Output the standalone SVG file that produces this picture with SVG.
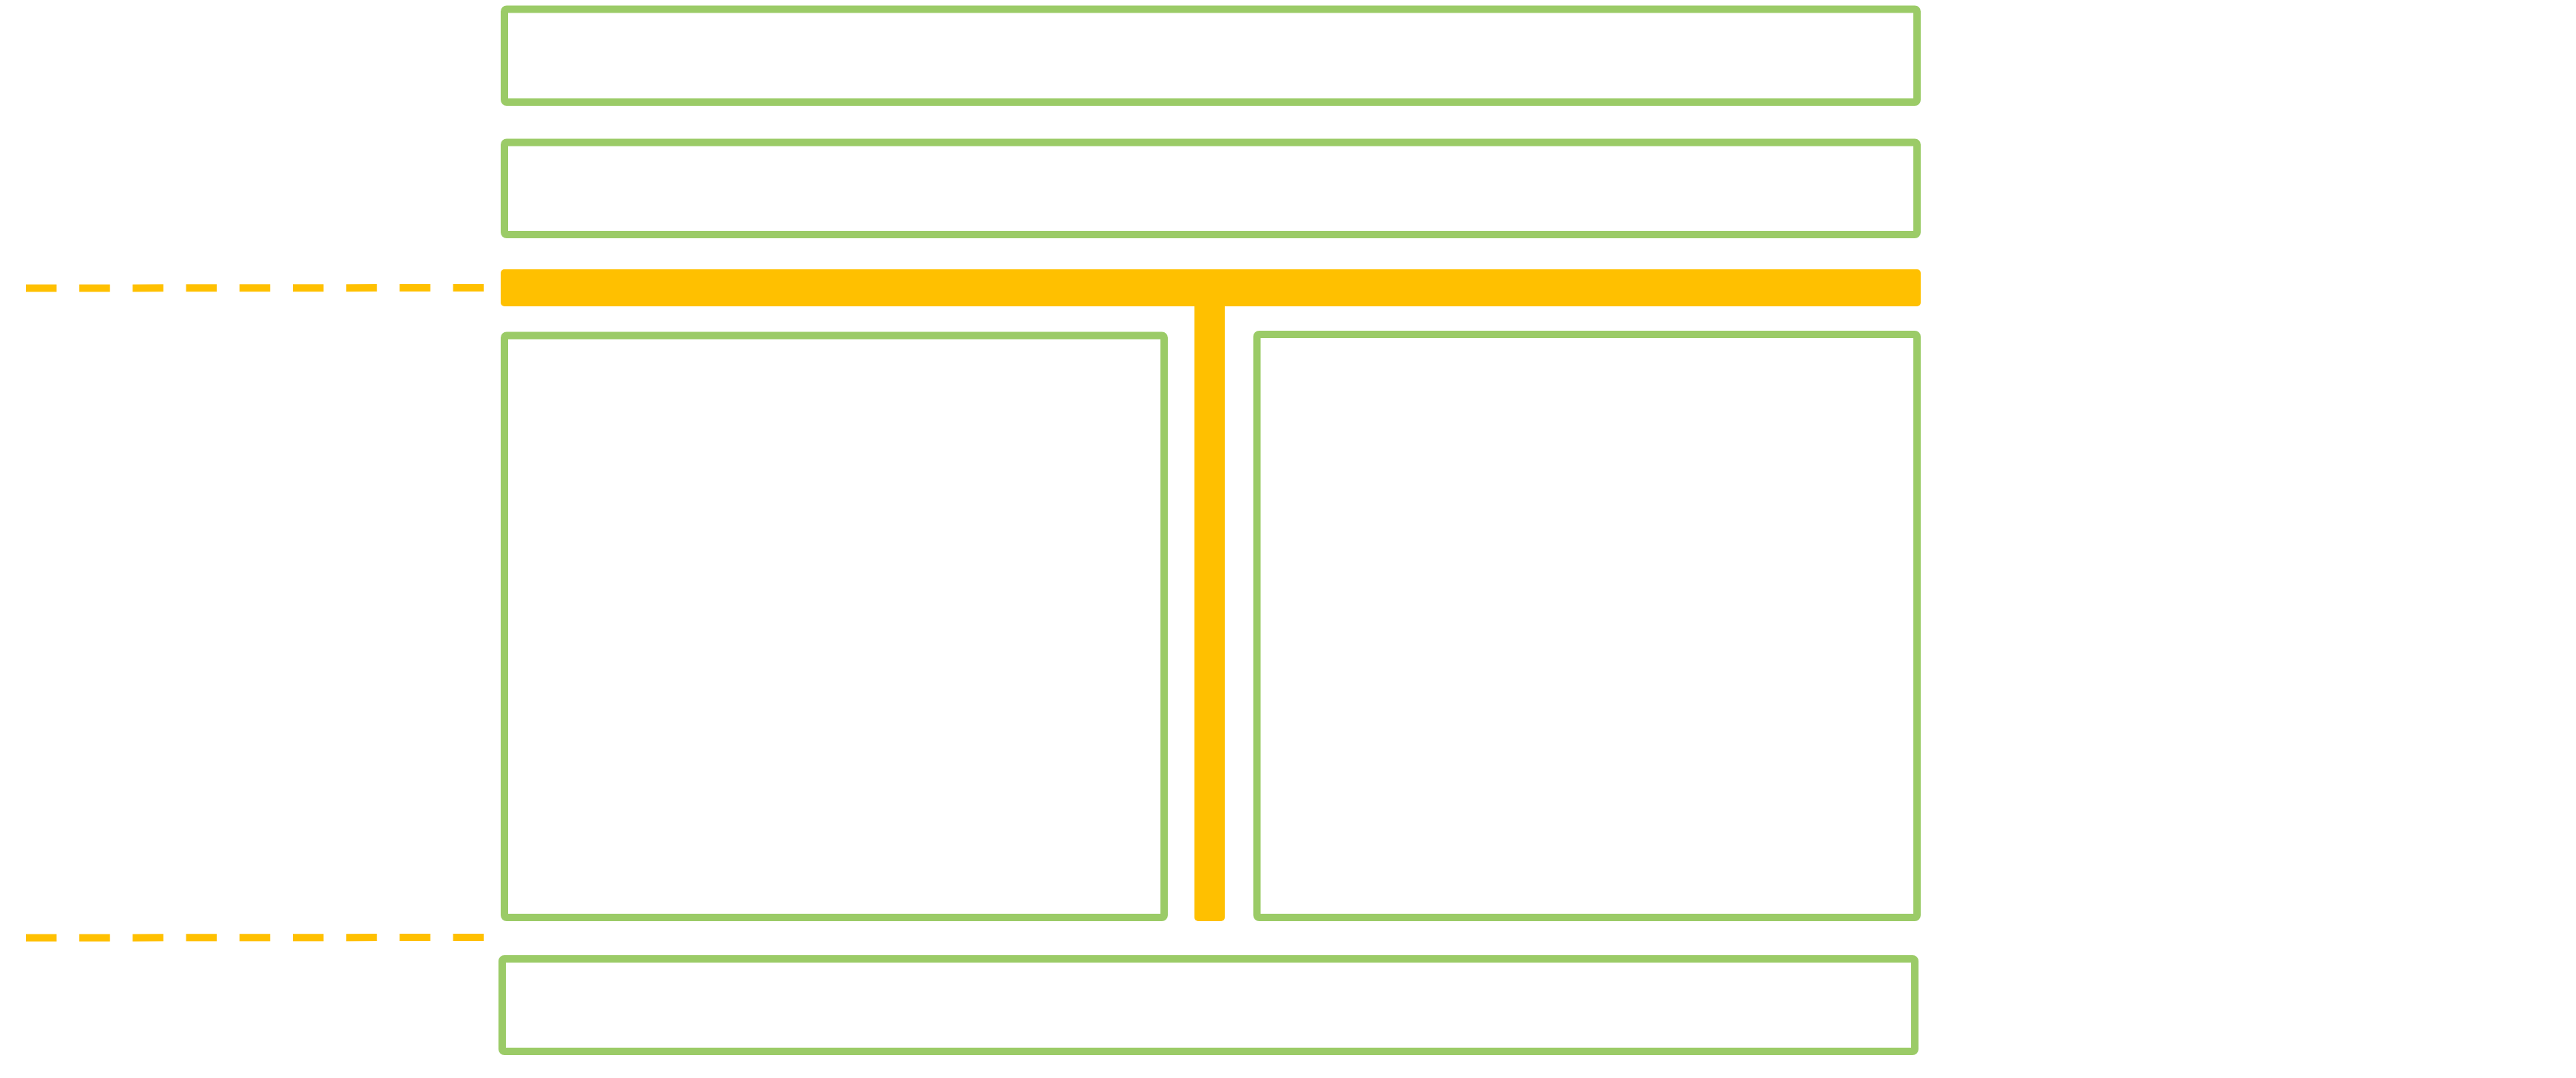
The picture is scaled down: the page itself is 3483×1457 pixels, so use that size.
<svg xmlns="http://www.w3.org/2000/svg" width="3483" height="1457" viewBox="0 0 3483 1457">
  <style>
    .box { fill: none; stroke: #9BCB67; stroke-width: 10; stroke-linejoin: round; }
    .bar { fill: #FFC000; stroke: none; }
    .dash { fill: none; stroke: #FFC000; stroke-width: 10; stroke-dasharray: 41.5 30.7; }
  </style>
  <rect width="3483" height="1457" fill="#FFFFFF"/>
  <g id="node-top1">
    <rect class="box" x="682" y="12.5" width="1910" height="125.5" rx="3"/>
  </g>
  <g id="node-top2">
    <rect class="box" x="682" y="192.5" width="1910" height="124.5" rx="3"/>
  </g>
  <g id="node-bar">
    <rect class="bar" x="677" y="364" width="1920" height="50" rx="5"/>
    <rect class="bar" x="1615" y="405" width="41" height="840" rx="5"/>
  </g>
  <g id="node-left">
    <rect class="box" x="682" y="453.5" width="892" height="786.5" rx="3"/>
  </g>
  <g id="node-right">
    <rect class="box" x="1699.5" y="452" width="892.5" height="788" rx="3"/>
  </g>
  <g id="node-bottom">
    <rect class="box" x="679" y="1296" width="1910" height="125" rx="3"/>
  </g>
  <g id="connectors">
    <line class="dash" x1="35" y1="389.5" x2="654" y2="389"/>
    <line class="dash" x1="35" y1="1267.5" x2="654" y2="1267"/>
  </g>
</svg>
